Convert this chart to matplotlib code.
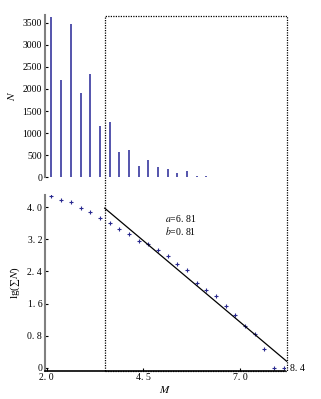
import matplotlib
matplotlib.use('Agg')
import matplotlib.pyplot as plt
from matplotlib.patches import Rectangle
import matplotlib.transforms as mtransforms
import numpy as np

plt.rcParams['font.family'] = ['Liberation Serif', 'DejaVu Serif']
plt.rcParams['mathtext.fontset'] = 'stix'

# magnitude bins (step 0.25)
m_bins = [2.125, 2.375, 2.625, 2.875, 3.125, 3.375, 3.625, 3.875, 4.125, 4.375,
          4.625, 4.875, 5.125, 5.375, 5.625, 5.875, 6.125, 6.375, 6.625,
          6.875, 7.125, 7.375, 7.625, 7.875, 8.125]
# event counts per bin
n_count = [3636, 2213, 3470, 1918, 2341, 1168, 1243, 568, 614, 259,
           380, 227, 175, 84, 130, 23, 16, 12, 12]
# lg of cumulative count
lg_cum = [4.27, 4.18, 4.12, 3.98, 3.87, 3.72, 3.60, 3.45, 3.33, 3.17,
          3.09, 2.93, 2.78, 2.58, 2.44, 2.11, 1.94, 1.79, 1.54, 1.31,
          1.04, 0.84, 0.47, 0.0, 0.0]
a_val, b_val = 6.81, 0.81
fit_range = [3.5, 8.2]

fig = plt.figure(figsize=(3.21, 3.99), dpi=100)
ax1 = fig.add_axes([0.140, 0.556, 0.748, 0.406])
ax2 = fig.add_axes([0.140, 0.071, 0.748, 0.440], sharex=ax1)

# top: frequency
ax1.vlines(m_bins[:len(n_count)], 0, n_count, colors='#4646a6', lw=1.3)
ax1.set_ylim(0, 3675)
ax1.set_yticks(range(0, 3501, 500))
ax1.set_ylabel('$N$', fontsize=8, labelpad=4)
for s in ['top', 'right', 'bottom']:
    ax1.spines[s].set_visible(False)
ax1.spines['left'].set_color('#808080')
ax1.spines['left'].set_linewidth(1.5)
ax1.tick_params(axis='x', bottom=False, labelbottom=False)
ax1.tick_params(axis='y', direction='in', length=2, labelsize=7, pad=2)

# bottom: cumulative
ax2.plot(m_bins, lg_cum, ls='none', marker='+', ms=2.6, mew=0.8, color='#2a2a90')
fx = np.array(fit_range)
ax2.plot(fx, a_val - b_val * fx, color='black', lw=0.9, clip_on=False)
ax2.set_xlim(1.956, 8.16)
ax2.set_ylim(-0.067, 4.30)
ax2.set_xticks([2.0, 4.5, 7.0])
ax2.set_xticklabels(['2. 0', '4. 5', '7. 0'])
ax2.set_yticks([0, 0.8, 1.6, 2.4, 3.2, 4.0])
ax2.set_yticklabels(['0', '0. 8', '1. 6', '2. 4', '3. 2', '4. 0'])
ax2.set_xlabel('$M$', fontsize=8, labelpad=1)
ax2.set_ylabel('lg(\u2211$N$)', fontsize=8, labelpad=4)
for s in ['top', 'right']:
    ax2.spines[s].set_visible(False)
ax2.spines['left'].set_color('#808080')
ax2.spines['left'].set_linewidth(1.5)
ax2.spines['bottom'].set_linewidth(1.2)
ax2.tick_params(direction='in', length=2, labelsize=7, pad=2)

ax2.text(5.06, 3.73, '$a$=6. 81', fontsize=7, va='center')
ax2.text(5.06, 3.40, '$b$=0. 81', fontsize=7, va='center')
ax2.text(8.29, -0.02, '8. 4', fontsize=7, va='center', clip_on=False)

# dotted selection box spanning both panels
trans = mtransforms.blended_transform_factory(ax2.transData, fig.transFigure)
box = Rectangle((fit_range[0], 0.071), fit_range[1] - fit_range[0], 0.960 - 0.071,
                transform=trans, fill=False, ls=(0, (1, 1)), lw=0.9,
                ec='black', clip_on=False)
fig.add_artist(box)

fig.savefig('out.png', dpi=100)
